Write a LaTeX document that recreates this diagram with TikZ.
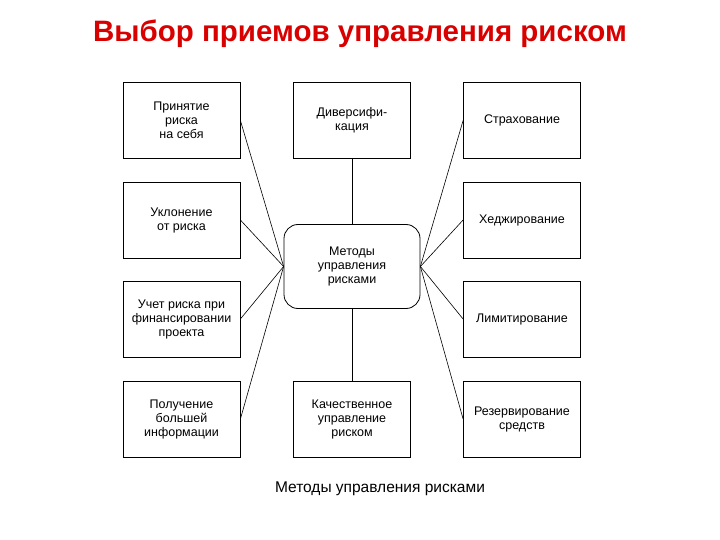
\documentclass[tikz,border=0pt]{standalone}
\usepackage{fontspec}
\setmainfont{Liberation Sans}
\begin{document}
\begin{tikzpicture}[x=1pt,y=-1pt,
  bx/.style={draw,thick,minimum width=117pt,minimum height=76pt,align=center,font=\fontsize{12.5}{14}\selectfont,inner sep=1pt},
  ln/.style={semithick}]
\useasboundingbox (0,0) rectangle (720,540);
\node[font=\bfseries\fontsize{29.5}{32}\selectfont,text=red!85!black] (title) at (360,34) {Выбор приемов управления риском};
\node[bx] (l1) at (181.5,120.5) {Принятие\\риска\\на себя};
\node[bx] (l2) at (181.5,220) {Уклонение\\от риска};
\node[bx] (l3) at (181.5,319) {Учет риска при\\финансировании\\проекта};
\node[bx] (l4) at (181.5,419) {Получение\\большей\\информации};
\node[bx] (m1) at (352,120.5) {Диверсифи-\\кация};
\node[bx] (m4) at (352,419) {Качественное\\управление\\риском};
\node[bx] (r1) at (522,120.5) {Страхование};
\node[bx] (r2) at (522,220) {Хеджирование};
\node[bx] (r3) at (522,319) {Лимитирование};
\node[bx] (r4) at (522,419) {Резервирование\\средств};
\node[bx,rounded corners=14pt,minimum width=136pt,minimum height=84pt] (c) at (352,266.5) {Методы\\управления\\рисками};
\draw[ln] (c.north) -- (m1.south);
\draw[ln] (c.south) -- (m4.north);
\foreach \n in {l1,l2,l3,l4} \draw[ln] (c.west) -- (\n.east);
\foreach \n in {r1,r2,r3,r4} \draw[ln] (c.east) -- (\n.west);
\node[font=\fontsize{15.5}{17}\selectfont] (cap) at (380,489) {Методы управления рисками};
\end{tikzpicture}
\end{document}
